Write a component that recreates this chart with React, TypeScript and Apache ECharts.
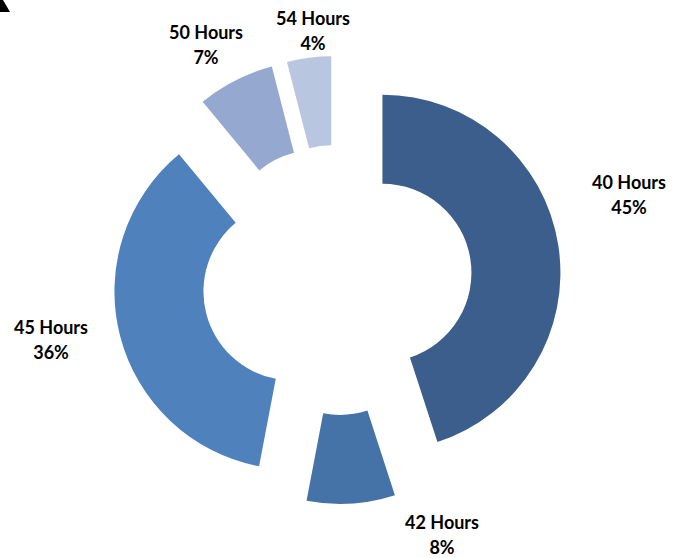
import React, { useEffect, useRef } from 'react';
import * as echarts from 'echarts';

const categories = ['40 Hours', '42 Hours', '45 Hours', '50 Hours', '54 Hours'];
const shares = [45, 8, 36, 7, 4];
const sliceColors = ['#3B5E8C', '#4572A7', '#4F81BD', '#95A8CF', '#B8C6E0'];
const labelAnchors: [number, number][] = [
  [629, 194],
  [442, 534],
  [51, 339],
  [206, 44],
  [313, 30],
];

export default function App() {
  const ref = useRef<HTMLDivElement>(null);
  useEffect(() => {
    const chart = echarts.init(ref.current!, null, { renderer: 'svg' });
    const total = shares.reduce((a, b) => a + b, 0);
    const labelTexts = categories.map((name, i) => ({
      type: 'text',
      x: labelAnchors[i][0],
      y: labelAnchors[i][1],
      style: {
        text: `${name}\n${Math.round((shares[i] / total) * 100)}%`,
        fontFamily: 'Lato',
        fontWeight: 'bold',
        fontSize: 18,
        lineHeight: 25,
        fill: '#000000',
        align: 'center',
        verticalAlign: 'middle',
      },
    }));
    chart.setOption({
      animation: false,
      backgroundColor: '#ffffff',
      graphic: [
        {
          type: 'polygon',
          shape: { points: [[0, 0], [3, 0], [10, 12], [0, 12]] },
          style: { fill: '#000000' },
        },
        ...labelTexts,
      ],
      series: [
        {
          type: 'pie',
          center: [337, 280],
          radius: [89, 178],
          startAngle: 90,
          clockwise: true,
          selectedMode: 'multiple',
          selectedOffset: 46,
          avoidLabelOverlap: false,
          emphasis: { disabled: true },
          label: { show: false },
          labelLine: { show: false },
          data: categories.map((name, i) => ({
            name,
            value: shares[i],
            selected: true,
            itemStyle: { color: sliceColors[i], borderWidth: 0 },
            select: { itemStyle: { color: sliceColors[i], borderWidth: 0 } },
          })),
        },
      ],
    });
    return () => chart.dispose();
  }, []);
  return (
    <div
      ref={ref}
      style={{ position: 'fixed', left: 0, top: 0, width: 683, height: 558 }}
    />
  );
}
